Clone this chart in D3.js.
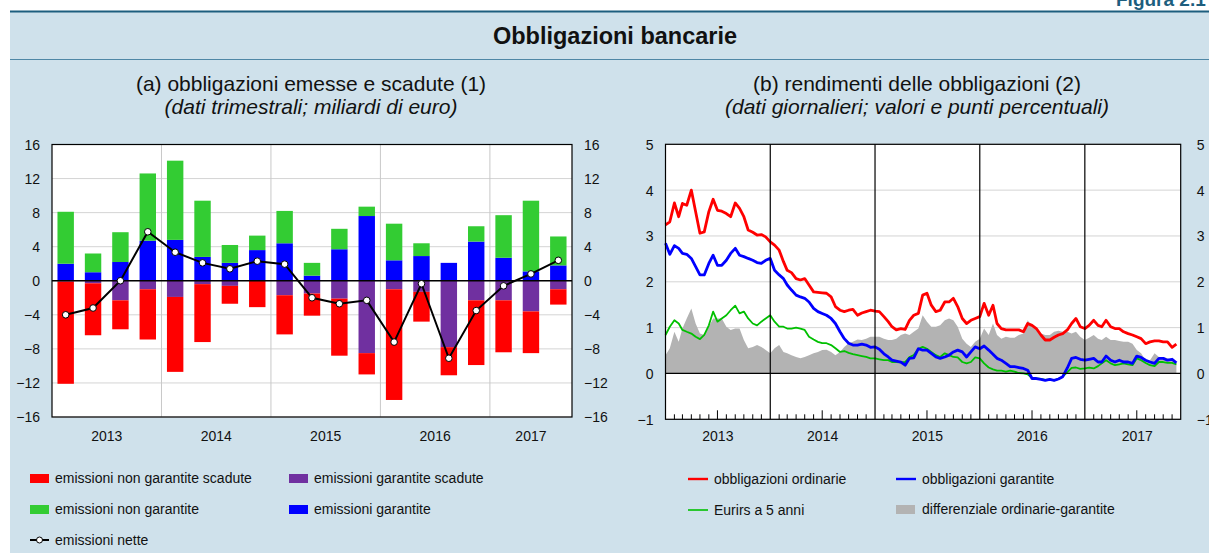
<!DOCTYPE html>
<html lang="it">
<head>
<meta charset="utf-8">
<title>Obbligazioni bancarie</title>
<script src="https://cdnjs.cloudflare.com/ajax/libs/d3/7.8.5/d3.min.js"></script>
<style>
body { margin: 0; background: #fff; }
svg text { font-family: "Liberation Sans", Arial, Helvetica, sans-serif; fill: #111; }
</style>
</head>
<body>
<script>
// ---- (a) quarterly issues, billions of euro ----
var quarters = ["2013T1","2013T2","2013T3","2013T4","2014T1","2014T2","2014T3","2014T4",
                "2015T1","2015T2","2015T3","2015T4","2016T1","2016T2","2016T3","2016T4",
                "2017T1","2017T2","2017T3"];
var emGarantite    = [2.0, 1.0, 2.2, 4.7, 4.8, 2.8, 2.1, 3.6, 4.4, 0.6, 3.7, 7.6, 2.4, 2.9, 2.1, 4.6, 2.7, 1.1, 1.8];
var emNonGarantite = [6.1, 2.2, 3.5, 7.9, 9.3, 6.6, 2.1, 1.7, 3.8, 1.5, 2.4, 1.1, 4.3, 1.5, 0.0, 1.8, 5.0, 8.3, 3.4];
var scGarantite    = [-0.1, -0.3, -2.3, -1.0, -1.9, -0.4, -0.6, 0.0, -1.7, -1.5, -2.1, -8.5, -1.0, -1.3, -7.8, -2.3, -2.3, -3.6, -1.0];
var scNonGarantite = [-12.0, -6.1, -3.4, -5.9, -8.8, -6.8, -2.1, -3.1, -4.6, -2.6, -6.7, -2.5, -13.0, -3.5, -3.3, -7.6, -6.1, -4.9, -1.8];
var emNette        = [-4.0, -3.2, 0.0, 5.75, 3.35, 2.1, 1.4, 2.3, 1.95, -2.0, -2.7, -2.3, -7.2, -0.35, -9.1, -3.5, -0.6, 0.8, 2.4];
var yearsA = ["2013", "2014", "2015", "2016", "2017"];
var ticksA = [-16, -12, -8, -4, 0, 4, 8, 12, 16];

// ---- (b) yields, half-monthly readings from 1 Jan 2013 to 15 Nov 2017 ----
var ordinarie = [
  3.24, 3.31, 3.72, 3.42, 3.71, 3.67, 4.0, 3.53, 3.06, 3.09, 3.53, 3.8, 3.56, 3.54, 3.49, 3.42, 3.72, 3.6, 3.42, 3.13, 3.08, 3.02, 3.03, 2.98,
  2.87, 2.8, 2.69, 2.44, 2.25, 2.2, 2.07, 2.04, 2.07, 1.93, 1.78, 1.77, 1.76, 1.75, 1.67, 1.46, 1.38, 1.35, 1.38, 1.4, 1.27, 1.32, 1.35, 1.38,
  1.36, 1.35, 1.24, 1.13, 1.02, 0.95, 0.98, 0.96, 1.16, 1.27, 1.31, 1.71, 1.75, 1.49, 1.35, 1.38, 1.56, 1.56, 1.64, 1.46, 1.2, 1.09, 1.16, 1.2,
  1.24, 1.53, 1.27, 1.49, 1.09, 0.98, 0.95, 0.95, 0.95, 0.95, 0.91, 1.09, 1.05, 0.98, 0.84, 0.73, 0.73, 0.79, 0.84, 0.87, 0.95, 1.09, 1.2, 1.02,
  0.98, 1.05, 1.16, 1.05, 1.02, 1.16, 1.02, 0.98, 0.98, 0.91, 0.87, 0.84, 0.8, 0.76, 0.65, 0.69, 0.71, 0.71, 0.69, 0.69, 0.57, 0.64];
var garantite = [
  2.84, 2.6, 2.79, 2.73, 2.62, 2.6, 2.51, 2.33, 2.15, 2.15, 2.4, 2.58, 2.36, 2.36, 2.47, 2.62, 2.73, 2.58, 2.55, 2.51, 2.47, 2.42, 2.4, 2.47,
  2.51, 2.25, 2.15, 2.07, 1.93, 1.82, 1.71, 1.67, 1.64, 1.56, 1.42, 1.35, 1.31, 1.27, 1.2, 1.09, 0.91, 0.76, 0.66, 0.62, 0.62, 0.64, 0.62, 0.57,
  0.58, 0.53, 0.43, 0.36, 0.29, 0.27, 0.25, 0.18, 0.33, 0.34, 0.54, 0.51, 0.51, 0.44, 0.36, 0.33, 0.36, 0.4, 0.47, 0.51, 0.47, 0.36, 0.47, 0.58,
  0.54, 0.6, 0.51, 0.42, 0.33, 0.29, 0.22, 0.15, 0.15, 0.13, 0.11, 0.07, -0.11, -0.11, -0.13, -0.15, -0.13, -0.15, -0.12, -0.07, 0.12, 0.33, 0.35, 0.31,
  0.29, 0.31, 0.33, 0.25, 0.25, 0.38, 0.29, 0.25, 0.29, 0.25, 0.25, 0.22, 0.38, 0.35, 0.29, 0.25, 0.22, 0.33, 0.33, 0.29, 0.31, 0.23];
var eurirs5 = [
  0.84, 1.02, 1.16, 1.09, 0.95, 0.91, 0.87, 0.8, 0.75, 0.84, 1.05, 1.35, 1.13, 1.2, 1.27, 1.38, 1.48, 1.31, 1.35, 1.2, 1.09, 1.05, 1.13, 1.2,
  1.27, 1.13, 1.02, 1.02, 0.98, 0.98, 1.0, 0.98, 0.95, 0.8, 0.74, 0.69, 0.66, 0.66, 0.62, 0.55, 0.47, 0.49, 0.45, 0.42, 0.4, 0.38, 0.36, 0.33,
  0.33, 0.31, 0.29, 0.29, 0.25, 0.25, 0.24, 0.25, 0.36, 0.4, 0.54, 0.58, 0.54, 0.47, 0.4, 0.36, 0.44, 0.4, 0.36, 0.35, 0.25, 0.22, 0.25, 0.35,
  0.33, 0.22, 0.13, 0.09, 0.06, 0.06, 0.04, 0.06, 0.04, 0.01, 0.0, -0.02, -0.1, -0.11, -0.12, -0.14, -0.13, -0.15, -0.12, -0.07, 0.03, 0.12, 0.13, 0.1,
  0.11, 0.13, 0.11, 0.16, 0.22, 0.29, 0.22, 0.18, 0.2, 0.22, 0.2, 0.18, 0.33, 0.29, 0.23, 0.18, 0.16, 0.25, 0.25, 0.23, 0.23, 0.2];
var differenziale = [
  0.4, 0.55, 0.91, 0.69, 0.98, 1.2, 1.42, 1.09, 0.87, 0.84, 1.02, 1.2, 1.2, 1.2, 1.02, 0.95, 0.98, 0.98, 0.73, 0.55, 0.58, 0.62, 0.58, 0.51,
  0.44, 0.55, 0.62, 0.47, 0.44, 0.4, 0.36, 0.33, 0.36, 0.4, 0.44, 0.47, 0.51, 0.52, 0.47, 0.4, 0.47, 0.58, 0.66, 0.69, 0.74, 0.73, 0.76, 0.8,
  0.8, 0.8, 0.76, 0.73, 0.73, 0.76, 0.84, 0.87, 0.84, 0.91, 0.98, 1.27, 1.13, 1.02, 1.02, 1.05, 1.16, 1.2, 1.16, 1.02, 0.76, 0.65, 0.58, 0.69,
  0.76, 0.98, 0.84, 1.09, 0.84, 0.76, 0.8, 0.78, 0.78, 0.84, 0.87, 1.16, 1.02, 0.98, 0.87, 0.84, 0.84, 0.91, 0.93, 0.91, 0.91, 0.87, 0.91, 0.8,
  0.73, 0.78, 0.84, 0.76, 0.73, 0.8, 0.73, 0.73, 0.71, 0.69, 0.69, 0.65, 0.51, 0.44, 0.29, 0.29, 0.44, 0.36, 0.36, 0.33, 0.29, 0.22];
var yearsB = [2013, 2014, 2015, 2016, 2017];
var ticksB = [-1, 0, 1, 2, 3, 4, 5];

var W = 1209, H = 553;
var bg = "#cfe1eb";
var svg = d3.select("body").append("svg").attr("width", W).attr("height", H);

// panel and heading
svg.append("rect").attr("x", 10).attr("y", 12).attr("width", W - 10).attr("height", H - 12).attr("fill", bg);
svg.append("line").attr("x1", 10).attr("x2", W).attr("y1", 11.5).attr("y2", 11.5)
   .attr("stroke", "#1d5e7e").attr("stroke-width", 2);
svg.append("line").attr("x1", 10).attr("x2", W).attr("y1", 59.5).attr("y2", 59.5)
   .attr("stroke", "#4f87a6").attr("stroke-width", 1);
svg.append("text").attr("x", 1116).attr("y", 6).style("font-size", "19px").style("font-weight", "bold")
   .style("fill", "#1d5e7e").text("Figura 2.1");
svg.append("text").attr("x", 615).attr("y", 44).attr("text-anchor", "middle")
   .style("font-size", "23.5px").style("font-weight", "bold").text("Obbligazioni bancarie");

function subtitle(cx, t1, t2) {
  svg.append("text").attr("x", cx).attr("y", 91).attr("text-anchor", "middle").style("font-size", "21px").text(t1);
  svg.append("text").attr("x", cx).attr("y", 114).attr("text-anchor", "middle").style("font-size", "21px")
     .style("font-style", "italic").text(t2);
}
subtitle(311, "(a) obbligazioni emesse e scadute (1)", "(dati trimestrali; miliardi di euro)");
subtitle(917, "(b) rendimenti delle obbligazioni (2)", "(dati giornalieri; valori e punti percentuali)");

// ================= panel (a) =================
var aL = 52, aR = 572, aT = 144.5, aB = 417;
var xA = d3.scaleBand().domain(quarters).range([aL, aR]).paddingInner(0.4).paddingOuter(0.2);
var yA = d3.scaleLinear().domain([-16, 16]).range([aB, aT]);
var gA = svg.append("g");
gA.append("rect").attr("x", aL).attr("y", aT).attr("width", aR - aL).attr("height", aB - aT).attr("fill", "#fff");

gA.selectAll("line.grid").data(ticksA).enter().append("line")
  .attr("x1", aL).attr("x2", aR).attr("y1", function(d) { return yA(d); }).attr("y2", function(d) { return yA(d); })
  .attr("stroke", "#d4d4d4").attr("stroke-width", 1);
var step = xA.step();
gA.selectAll("line.vgrid").data(yearsA.slice(1)).enter().append("line")
  .attr("x1", function(d, i) { return aL + (i + 1) * 4 * step; })
  .attr("x2", function(d, i) { return aL + (i + 1) * 4 * step; })
  .attr("y1", aT).attr("y2", aB).attr("stroke", "#c8c8c8").attr("stroke-width", 1);

function bars(vals, base, color) {
  gA.append("g").selectAll("rect").data(vals).enter().append("rect")
    .attr("x", function(d, i) { return xA(quarters[i]); })
    .attr("width", xA.bandwidth())
    .attr("y", function(d, i) { var b = base ? base[i] : 0; return yA(Math.max(b, b + d)); })
    .attr("height", function(d) { return Math.abs(yA(0) - yA(d)); })
    .attr("fill", color);
}
bars(emGarantite, null, "#0000ff");
bars(emNonGarantite, emGarantite, "#33cc33");
bars(scGarantite, null, "#7030a0");
bars(scNonGarantite, scGarantite, "#ff0000");

gA.append("line").attr("x1", aL).attr("x2", aR).attr("y1", yA(0)).attr("y2", yA(0)).attr("stroke", "#000").attr("stroke-width", 1.5);

var netLine = d3.line()
  .x(function(d, i) { return xA(quarters[i]) + xA.bandwidth() / 2; })
  .y(function(d) { return yA(d); });
gA.append("path").datum(emNette).attr("d", netLine).attr("fill", "none").attr("stroke", "#000").attr("stroke-width", 2);
gA.selectAll("circle").data(emNette).enter().append("circle")
  .attr("cx", function(d, i) { return xA(quarters[i]) + xA.bandwidth() / 2; })
  .attr("cy", function(d) { return yA(d); }).attr("r", 3.3)
  .attr("fill", "#fff").attr("stroke", "#000").attr("stroke-width", 1);

gA.append("rect").attr("x", aL).attr("y", aT).attr("width", aR - aL).attr("height", aB - aT)
  .attr("fill", "none").attr("stroke", "#000").attr("stroke-width", 1.2);

function styleAxis(g) {
  g.select(".domain").remove();
  g.selectAll("text").style("font-size", "14px").attr("dy", "0.35em");
}
gA.append("g").attr("transform", "translate(" + (aL - 8) + ",0)")
  .call(d3.axisLeft(yA).tickValues(ticksA).tickSize(0).tickPadding(4)).call(styleAxis);
gA.append("g").attr("transform", "translate(" + (aR + 8) + ",0)")
  .call(d3.axisRight(yA).tickValues(ticksA).tickSize(0).tickPadding(4)).call(styleAxis);

gA.selectAll("text.year").data(yearsA).enter().append("text")
  .attr("x", function(d, i) {
    var first = xA(quarters[i * 4]), lastQ = quarters[Math.min(i * 4 + 3, quarters.length - 1)];
    return (first + xA(lastQ) + xA.bandwidth()) / 2;
  })
  .attr("y", 441).attr("text-anchor", "middle").style("font-size", "14px").text(function(d) { return d; });

// legend (a)
var legA = [
  { t: "emissioni non garantite scadute", c: "#ff0000", x: 30, y: 478 },
  { t: "emissioni garantite scadute", c: "#7030a0", x: 289, y: 478 },
  { t: "emissioni non garantite", c: "#33cc33", x: 30, y: 509 },
  { t: "emissioni garantite", c: "#0000ff", x: 289, y: 509 }
];
legA.forEach(function(d) {
  svg.append("rect").attr("x", d.x).attr("y", d.y - 4).attr("width", 19).attr("height", 9).attr("fill", d.c);
  svg.append("text").attr("x", d.x + 25).attr("y", d.y + 5).style("font-size", "14px").text(d.t);
});
svg.append("line").attr("x1", 30).attr("x2", 49).attr("y1", 540).attr("y2", 540).attr("stroke", "#000").attr("stroke-width", 2);
svg.append("circle").attr("cx", 39.5).attr("cy", 540).attr("r", 3).attr("fill", "#fff").attr("stroke", "#000");
svg.append("text").attr("x", 55).attr("y", 545).style("font-size", "14px").text("emissioni nette");

// ================= panel (b) =================
var bL = 665.5, bR = 1180.7, bT = 144.3, bB = 419.3;
var dates = ordinarie.map(function(d, i) {
  return new Date(2013 + Math.floor(i / 24), Math.floor((i % 24) / 2), i % 2 ? 16 : 1);
});
var xB = d3.scaleTime().domain([new Date(2013, 0, 1), new Date(2017, 11, 1)]).range([bL, bR]);
var yB = d3.scaleLinear().domain([-1, 5]).range([bB, bT]);
var gB = svg.append("g");
gB.append("rect").attr("x", bL).attr("y", bT).attr("width", bR - bL).attr("height", bB - bT).attr("fill", "#fff");
gB.selectAll("line.grid").data(ticksB).enter().append("line")
  .attr("x1", bL).attr("x2", bR).attr("y1", function(d) { return yB(d); }).attr("y2", function(d) { return yB(d); })
  .attr("stroke", "#d4d4d4").attr("stroke-width", 1);

var area = d3.area().x(function(d, i) { return xB(dates[i]); }).y0(yB(0)).y1(function(d) { return yB(d); });
gB.append("path").datum(differenziale).attr("d", area).attr("fill", "#b3b3b3");

function seriesLine(vals, color, w) {
  var ln = d3.line().x(function(d, i) { return xB(dates[i]); }).y(function(d) { return yB(d); });
  gB.append("path").datum(vals).attr("d", ln).attr("fill", "none").attr("stroke", color)
    .attr("stroke-width", w).attr("stroke-linejoin", "round");
}
seriesLine(eurirs5, "#00c000", 1.8);
seriesLine(garantite, "#0000ff", 2.8);
seriesLine(ordinarie, "#ff0000", 2.8);

gB.append("line").attr("x1", bL).attr("x2", bR).attr("y1", yB(0)).attr("y2", yB(0)).attr("stroke", "#000").attr("stroke-width", 1.2);
gB.selectAll("line.yr").data(yearsB.slice(1)).enter().append("line")
  .attr("x1", function(d) { return xB(new Date(d, 0, 1)); }).attr("x2", function(d) { return xB(new Date(d, 0, 1)); })
  .attr("y1", bT).attr("y2", bB).attr("stroke", "#000").attr("stroke-width", 1.2);

var months = d3.timeMonth.range(new Date(2013, 1, 1), new Date(2017, 11, 1)).filter(function(d) { return d.getMonth() !== 0; });
gB.selectAll("line.mt").data(months).enter().append("line")
  .attr("x1", function(d) { return xB(d); }).attr("x2", function(d) { return xB(d); })
  .attr("y1", bB).attr("y2", function(d) { return bB - (d.getMonth() === 6 ? 9 : 5); })
  .attr("stroke", "#000").attr("stroke-width", 1);

gB.append("rect").attr("x", bL).attr("y", bT).attr("width", bR - bL).attr("height", bB - bT)
  .attr("fill", "none").attr("stroke", "#000").attr("stroke-width", 1.2);

gB.append("g").attr("transform", "translate(" + (bL - 8) + ",0)")
  .call(d3.axisLeft(yB).tickValues(ticksB).tickFormat(d3.format("d")).tickSize(0).tickPadding(4)).call(styleAxis);
gB.append("g").attr("transform", "translate(" + (bR + 12) + ",0)")
  .call(d3.axisRight(yB).tickValues(ticksB).tickFormat(d3.format("d")).tickSize(0).tickPadding(4)).call(styleAxis);

gB.selectAll("text.year").data(yearsB).enter().append("text")
  .attr("x", function(d) { return (xB(new Date(d, 0, 1)) + xB(new Date(d + 1, 0, 1))) / 2; })
  .attr("y", 441).attr("text-anchor", "middle").style("font-size", "14px").text(function(d) { return d; });

// legend (b)
var legB = [
  { t: "obbligazioni ordinarie", c: "#ff0000", x: 688, y: 479, w: 2.4 },
  { t: "obbligazioni garantite", c: "#0000ff", x: 896, y: 479, w: 2.4 },
  { t: "Eurirs a 5 anni", c: "#00c000", x: 688, y: 510, w: 1.6 }
];
legB.forEach(function(d) {
  svg.append("line").attr("x1", d.x).attr("x2", d.x + 20).attr("y1", d.y).attr("y2", d.y)
     .attr("stroke", d.c).attr("stroke-width", d.w);
  svg.append("text").attr("x", d.x + 26).attr("y", d.y + 5).style("font-size", "14px").text(d.t);
});
svg.append("rect").attr("x", 896).attr("y", 505).attr("width", 19).attr("height", 9).attr("fill", "#b3b3b3");
svg.append("text").attr("x", 922).attr("y", 514).style("font-size", "14px").text("differenziale ordinarie-garantite");
</script>
</body>
</html>
